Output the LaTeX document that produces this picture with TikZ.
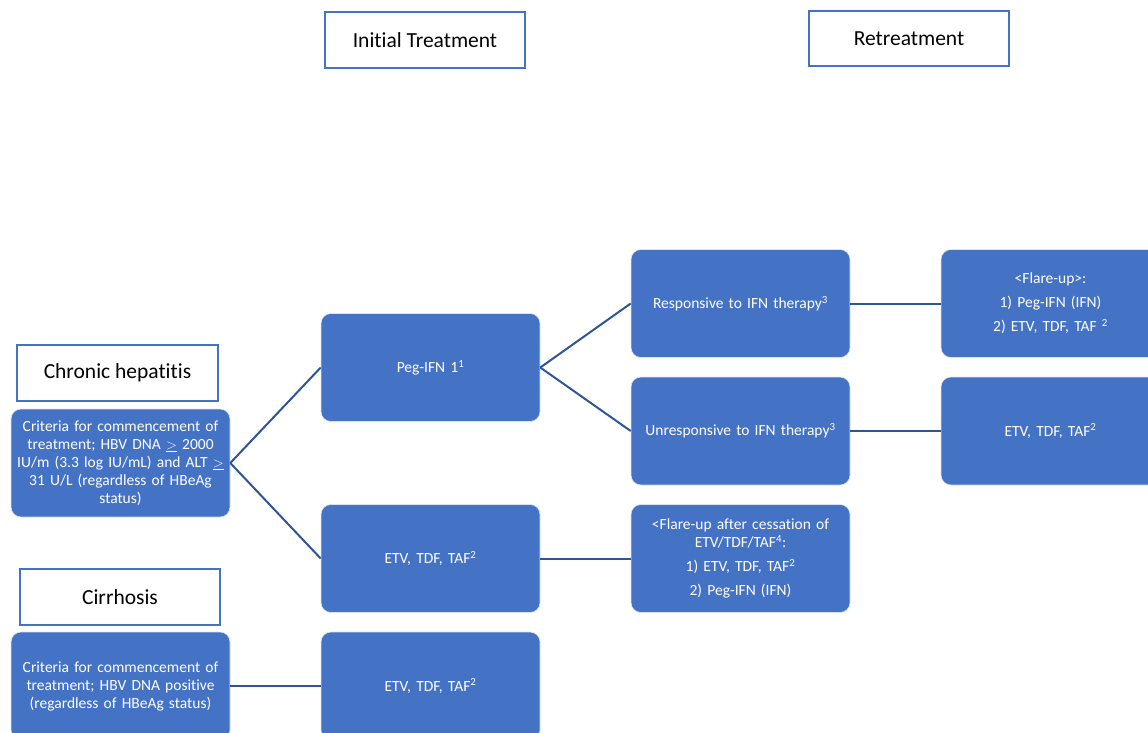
\documentclass[tikz,border=0pt]{standalone}
\usepackage{fontspec}
\setmainfont{Carlito}[RawFeature={-liga;-clig;-calt;-dlig}]
\hyphenpenalty=10000
\exhyphenpenalty=10000
\definecolor{boxblue}{HTML}{4472C4}
\definecolor{linkblue}{HTML}{2F5597}
\begin{document}
\begin{tikzpicture}[x=1pt,y=-1pt,
  header/.style={draw=boxblue, line width=2.2pt, fill=white, minimum width=200pt, minimum height=56pt, font=\fontsize{21.5}{26}\selectfont, text=black, inner sep=0pt},
  bluebox/.style={rounded corners=10pt, fill=boxblue, draw=white!80!boxblue, line width=0.6pt, minimum width=219pt, minimum height=108pt, text=white, align=center, font=\fontsize{15.5}{18}\selectfont, inner sep=0pt, text width=219pt},
  link/.style={draw=linkblue, line width=2pt}]
\useasboundingbox (0,0) rectangle (1148,733);
\clip (0,0) rectangle (1148,733);
\node[header] (hInit) at (425,40) {Initial Treatment};
\node[header, minimum height=55pt] (hRet) at (909,38.5) {Retreatment};
\node[header, minimum width=201pt] (hChr) at (117.5,373) {Chronic hepatitis};
\node[header] (hCir) at (120,597) {Cirrhosis};

\node[bluebox] (crit1) at (120.5,463) {Criteria for commencement of\\ treatment; HBV DNA $\underline{>}$ 2000\\ IU/m (3.3 log IU/mL) and ALT $\underline{>}$\\ 31 U/L (regardless of HBeAg\\ status)};
\node[bluebox] (crit2) at (120.5,686) {Criteria for commencement of\\ treatment; HBV DNA positive\\ (regardless of HBeAg status)};
\node[bluebox] (peg) at (430.5,367.5) {Peg-IFN 1\textsuperscript{1}};
\node[bluebox] (etv1) at (430.5,558.5) {ETV, TDF, TAF\textsuperscript{2}};
\node[bluebox] (etv2) at (430.5,686) {ETV, TDF, TAF\textsuperscript{2}};
\node[bluebox] (resp) at (740.5,303.5) {Responsive to IFN therapy\textsuperscript{3}};
\node[bluebox] (unresp) at (740.5,431) {Unresponsive to IFN therapy\textsuperscript{3}};
\node[bluebox] (flare2) at (740.5,558.5) {<Flare-up after cessation of\\ ETV/TDF/TAF\textsuperscript{4}:\\[6pt] 1) ETV, TDF, TAF\textsuperscript{2}\\[6pt] 2) Peg-IFN (IFN)};
\node[bluebox] (flare1) at (1050.5,303.5) {<Flare-up>:\\[6pt] 1) Peg-IFN (IFN)\\[6pt] 2) ETV, TDF, TAF \textsuperscript{2}};
\node[bluebox] (etvR) at (1050.5,431) {ETV, TDF, TAF\textsuperscript{2}};

\draw[link] (crit1.east) -- (peg.west);
\draw[link] (crit1.east) -- (etv1.west);
\draw[link] (crit2.east) -- (etv2.west);
\draw[link] (peg.east) -- (resp.west);
\draw[link] (peg.east) -- (unresp.west);
\draw[link] (etv1.east) -- (flare2.west);
\draw[link] (resp.east) -- (flare1.west);
\draw[link] (unresp.east) -- (etvR.west);
\end{tikzpicture}
\end{document}
